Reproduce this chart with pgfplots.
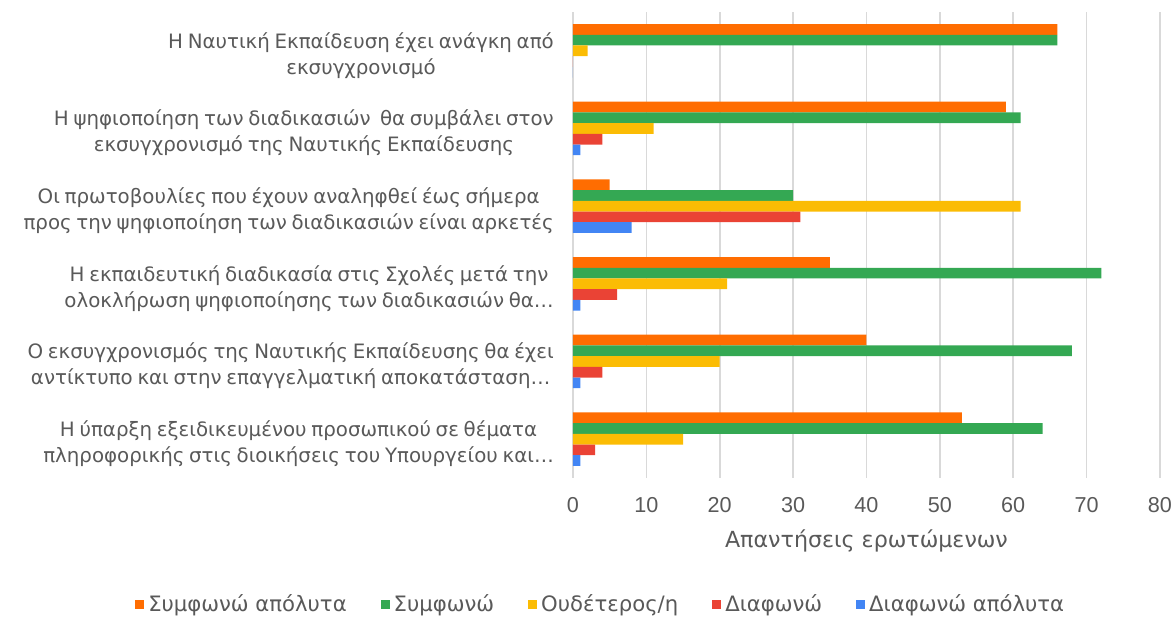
\documentclass[border=0pt]{standalone}
\usepackage{fontspec}
\setmainfont{DejaVu Sans}
\newfontfamily\lib{Liberation Sans}
\newfontfamily\lab[WordSpace=0.75]{DejaVu Sans}
\usepackage{pgfplots}
\pgfplotsset{compat=1.18}
\definecolor{cOr}{HTML}{FF6D01}
\definecolor{cGr}{HTML}{34A853}
\definecolor{cYe}{HTML}{FBBC04}
\definecolor{cRe}{HTML}{EA4335}
\definecolor{cBl}{HTML}{4285F4}
\definecolor{txt}{HTML}{595959}
\definecolor{grd}{HTML}{D9D9D9}
\begin{document}
\begin{tikzpicture}
\useasboundingbox (-286.5pt,-70.5pt) rectangle (301pt,239pt);
\begin{axis}[
  at={(0,0)}, anchor=south west,
  scale only axis, width=293.5pt, height=233pt,
  xbar, bar width=5.35pt,
  xmin=0, xmax=80, xtick={0,10,...,80},
  ymin=-0.5, ymax=5.5, ytick={0,...,5},
  yticklabels={
    {Η ύπαρξη εξειδικευμένου προσωπικού σε θέματα\\πληροφορικής στις διοικήσεις του Υπουργείου και…},
    {Ο εκσυγχρονισμός της Ναυτικής Εκπαίδευσης θα έχει\\αντίκτυπο και στην επαγγελματική αποκατάσταση…},
    {Η εκπαιδευτική διαδικασία στις Σχολές μετά την\\ολοκλήρωση ψηφιοποίησης των διαδικασιών θα…},
    {Οι πρωτοβουλίες που έχουν αναληφθεί έως σήμερα\\προς την ψηφιοποίηση των διαδικασιών είναι αρκετές},
    {Η ψηφιοποίηση των διαδικασιών\ \ θα συμβάλει στον\\εκσυγχρονισμό της Ναυτικής Εκπαίδευσης},
    {Η Ναυτική Εκπαίδευση έχει ανάγκη από\\εκσυγχρονισμό}},
  yticklabel style={align=center, font=\lab\fontsize{9.9}{13}\selectfont, text=txt, xshift=-1.8pt, yshift=-2.2pt},
  xticklabel style={font=\lib\fontsize{10.8}{12}\selectfont, text=txt, yshift=-6pt},
  /pgf/number format/assume math mode=true,
  xlabel={Απαντήσεις ερωτώμενων},
  xlabel style={at={(axis description cs:0.5,0)}, anchor=center, yshift=-31.5pt, font=\fontsize{11.1}{12}\selectfont, text=txt},
  axis line style={draw=none},
  major tick style={draw=none},
  xmajorgrids, grid style={grd, line width=0.8pt},
  legend columns=5,
  legend style={draw=none, at={(axis description cs:0.049,0)}, anchor=center, yshift=-63.5pt,
    font=\fontsize{10.6}{12}\selectfont, text=txt,
    /tikz/every even column/.append style={column sep=15pt}},
  legend image code/.code={\fill[#1] (0pt,-2.25pt) rectangle (4.5pt,2.25pt);},
]
\addplot[draw=none, fill=cOr, bar shift=10.7pt] coordinates {(66,5) (59,4) (5,3) (35,2) (40,1) (53,0)};
\addplot[draw=none, fill=cGr, bar shift=5.35pt] coordinates {(66,5) (61,4) (30,3) (72,2) (68,1) (64,0)};
\addplot[draw=none, fill=cYe, bar shift=0pt] coordinates {(2,5) (11,4) (61,3) (21,2) (20,1) (15,0)};
\addplot[draw=none, fill=cRe, bar shift=-5.35pt] coordinates {(0,5) (4,4) (31,3) (6,2) (4,1) (3,0)};
\addplot[draw=none, fill=cBl, bar shift=-10.7pt] coordinates {(0,5) (1,4) (8,3) (1,2) (1,1) (1,0)};
\legend{Συμφωνώ απόλυτα, Συμφωνώ, Ουδέτερος/η, Διαφωνώ, Διαφωνώ απόλυτα}
\end{axis}
\end{tikzpicture}
\end{document}
